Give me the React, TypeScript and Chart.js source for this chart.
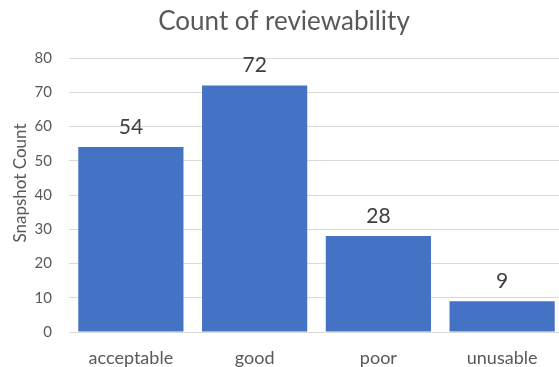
import React, { useEffect, useRef } from "react";
import { Chart, registerables } from "chart.js";

Chart.register(...registerables);

const categories = ["acceptable", "good", "poor", "unusable"];
const counts = [54, 72, 28, 9];
const chartTitle = "Count of reviewability";
const yAxisTitle = "Snapshot Count";

const FONT = "Lato, 'Open Sans', sans-serif";

// Writes each bar's value above it, the chart title and the rotated y-axis title.
const labelsPlugin = {
  id: "valueLabels",
  afterDatasetsDraw(chart: any) {
    const { ctx } = chart;
    const meta = chart.getDatasetMeta(0);
    ctx.save();
    ctx.fillStyle = "#404040";
    ctx.font = `21px ${FONT}`;
    ctx.textAlign = "center";
    ctx.textBaseline = "alphabetic";
    meta.data.forEach((bar: any, i: number) => {
      const v = chart.data.datasets[0].data[i];
      ctx.fillText(String(v), bar.x, bar.y - 13);
    });
    ctx.fillStyle = "#595959";
    ctx.font = `26px ${FONT}`;
    ctx.textBaseline = "middle";
    ctx.fillText(chartTitle, 284, 22);

    ctx.font = `17px ${FONT}`;
    ctx.translate(21, 183);
    ctx.rotate(-Math.PI / 2);
    ctx.fillText(yAxisTitle, 0, 0);
    ctx.restore();
  },
};

export default function App() {
  const ref = useRef<HTMLCanvasElement | null>(null);

  useEffect(() => {
    if (!ref.current) return;
    const chart = new Chart(ref.current, {
      type: "bar",
      data: {
        labels: categories,
        datasets: [
          {
            data: counts,
            backgroundColor: "#4472C4",
            borderWidth: 0,
            categoryPercentage: 1,
            barPercentage: 0.85,
          },
        ],
      },
      options: {
        responsive: false,
        animation: false,
        devicePixelRatio: 1,
        layout: { padding: { top: 58, left: 0, right: 0, bottom: 0 } },
        plugins: {
          legend: { display: false },
          title: { display: false },
          tooltip: { enabled: false },
        },
        scales: {
          x: {
            grid: { display: false, drawTicks: false },
            border: { display: false },
            ticks: {
              color: "#595959",
              font: { family: FONT, size: 18 },
              padding: 15,
            },
            afterFit(scale: any) {
              scale.height = 35;
            },
          },
          y: {
            min: 0,
            max: 80,
            ticks: {
              stepSize: 10,
              color: "#595959",
              font: { family: FONT, size: 15 },
              padding: 17,
            },
            grid: { color: "#d9d9d9", drawTicks: false, lineWidth: 1 },
            border: { display: false },
            afterFit(scale: any) {
              scale.width = 69;
            },
          },
        },
      },
      plugins: [labelsPlugin],
    });
    return () => chart.destroy();
  }, []);

  return (
    <div
      style={{
        position: "absolute",
        left: 0,
        top: 0,
        width: 559,
        height: 367,
        overflow: "hidden",
        background: "#ffffff",
      }}
    >
      <canvas ref={ref} width={564} height={367} style={{ display: "block" }} />
    </div>
  );
}
